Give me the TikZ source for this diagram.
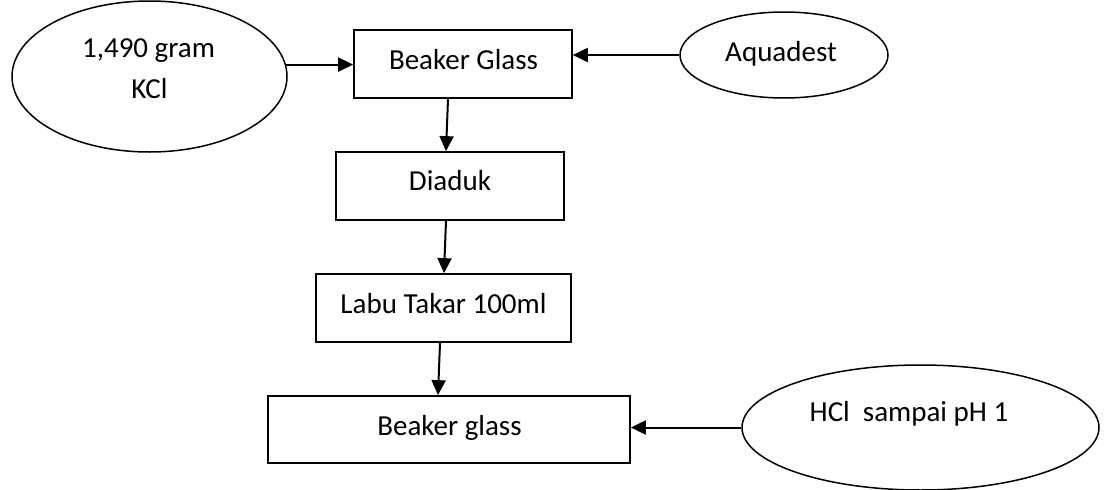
\documentclass[tikz,border=0pt]{standalone}
\usepackage{fontspec}
\setmainfont{Carlito}
\usetikzlibrary{shapes.geometric,arrows.meta}
\begin{document}
\begin{tikzpicture}[x=1pt,y=-1pt,
  stepbox/.style={draw,line width=1.7pt,rectangle,inner sep=0pt},
  oval/.style={draw,line width=1.5pt,ellipse,inner sep=0pt},
  lbl/.style={anchor=base,inner sep=0pt,font=\fontsize{29}{35}\selectfont},
  flow/.style={line width=2pt,-{Triangle[length=15pt,width=14pt]}}]
\useasboundingbox (0,0) rectangle (1109,490);
% shapes
\node[oval,minimum width=275pt,minimum height=151pt] (e1) at (149.5,76.5) {};
\node[oval,minimum width=208pt,minimum height=86pt] (aq) at (784,55) {};
\node[oval,minimum width=357pt,minimum height=125pt] (hcl) at (920.5,427.5) {};
\node[stepbox,minimum width=218pt,minimum height=68pt] (b1) at (463,64) {};
\node[stepbox,minimum width=228pt,minimum height=68pt] (d) at (450,186) {};
\node[stepbox,minimum width=255pt,minimum height=68pt] (l) at (443.5,308) {};
\node[stepbox,minimum width=362pt,minimum height=67pt] (b4) at (449,429.5) {};
% texts
\node[lbl] (t1a) at (148.5,57) {1,490 gram};
\node[lbl] (t1b) at (149.5,98) {KCl};
\node[lbl] (taq) at (781,61) {Aquadest};
\node[lbl] (thcl) at (909,421) {HCl\ \ sampai pH 1};
\node[lbl] (tb1) at (463.5,69) {Beaker Glass};
\node[lbl] (td) at (450,190) {Diaduk};
\node[lbl] (tl) at (443.5,313) {Labu Takar 100ml};
\node[lbl] (tb4) at (449.5,435) {Beaker glass};
% connectors
\draw[flow] (e1.5.5) -- (e1.5.5 -| b1.west);
\draw[flow] (aq.west) -- (aq.west -| b1.east);
\draw[flow] ([xshift=-15pt]b1.south) -- ([xshift=-4pt]d.north);
\draw[flow] ([xshift=-4pt]d.south) -- ([xshift=0.5pt]l.north);
\draw[flow] ([xshift=-3.5pt]l.south) -- ([xshift=-11pt]b4.north);
\draw[flow] (hcl.west) -- (hcl.west -| b4.east);
\end{tikzpicture}
\end{document}
